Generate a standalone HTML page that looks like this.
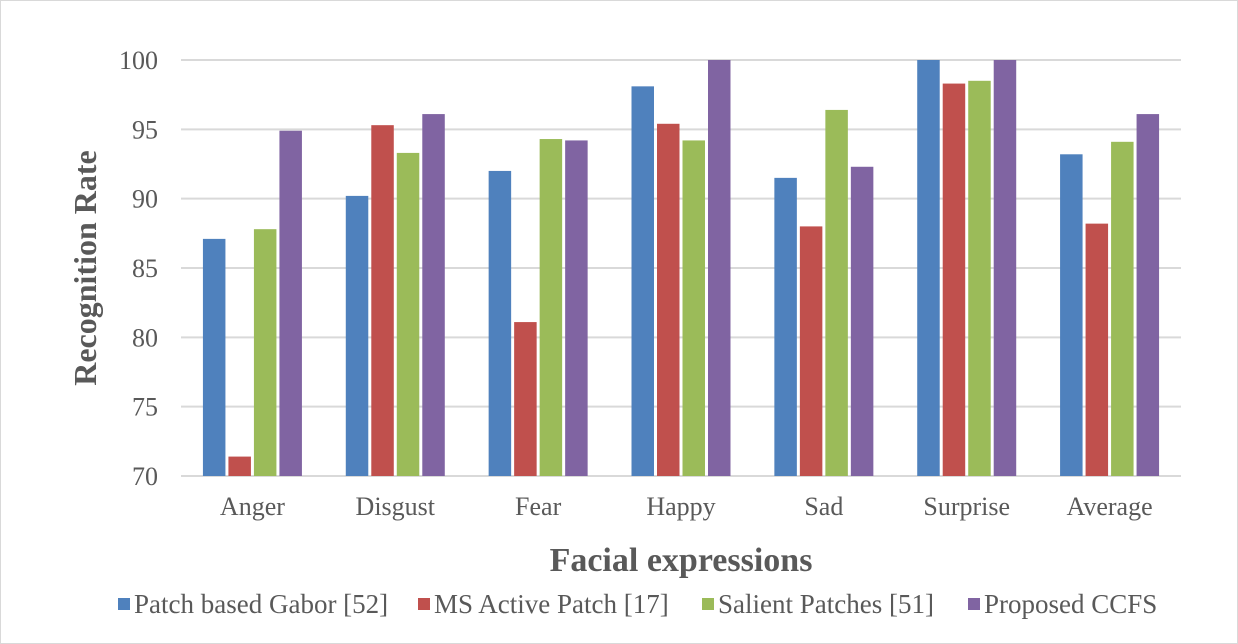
<!DOCTYPE html>
<html><head><meta charset="utf-8"><style>
html,body{margin:0;padding:0;background:#fff;}
svg{display:block;}
svg text{font-family:"Liberation Serif","DejaVu Serif",serif;}
</style></head><body>
<svg id="chart" width="1238" height="644" viewBox="0 0 1238 644">
<rect x="0.5" y="0.5" width="1237" height="643" fill="#fff" stroke="#d9d9d9"/>
<g id="grid"></g><g id="bars"></g><g id="xlabels"></g><g id="ylabels"></g>
<text x="96" y="268" transform="rotate(-90 96 268)" text-anchor="middle" font-size="32" font-weight="bold" fill="#595959">Recognition Rate</text>
<text x="681" y="571" text-anchor="middle" font-size="34" font-weight="bold" fill="#595959">Facial expressions</text>
<g id="legend"></g>
</svg>
<script>
const categories=["Anger","Disgust","Fear","Happy","Sad","Surprise","Average"];
const seriesNames=["Patch based Gabor [52]","MS Active Patch [17]","Salient Patches [51]","Proposed CCFS"];
const gabor=[87.1,90.2,92.0,98.1,91.5,100,93.2];
const msActive=[71.4,95.3,81.1,95.4,88.0,98.3,88.2];
const salient=[87.8,93.3,94.3,94.2,96.4,98.5,94.1];
const ccfs=[94.9,96.1,94.2,100,92.3,100,96.1];
const yTicks=[70,75,80,85,90,95,100];
const series=[gabor,msActive,salient,ccfs];
const colors=["#4F81BD","#C0504D","#9BBB59","#8064A2"];
const NS="http://www.w3.org/2000/svg";
const x0=181,x1=1181,yTop=60,yBot=476,ymin=70,ymax=100;
const slot=(x1-x0)/categories.length;
const y=v=>yBot-(v-ymin)/(ymax-ymin)*(yBot-yTop);
function mk(tag,attrs,parent){const e=document.createElementNS(NS,tag);for(const k in attrs)e.setAttribute(k,attrs[k]);parent.appendChild(e);return e;}
const grid=document.getElementById('grid'),yl=document.getElementById('ylabels');
yTicks.forEach(t=>{
  const l=mk('line',{x1:x0,x2:x1,y1:y(t),y2:y(t),stroke:'#d9d9d9','stroke-width':2},grid);
  
  
  const tx=mk('text',{x:158,y:y(t)+9,'text-anchor':'end','font-size':26,fill:'#595959'},yl);
  tx.textContent=t;
  
  
});
const bars=document.getElementById('bars'),xl=document.getElementById('xlabels');
const bw=22.5,step=25.5;
categories.forEach((c,i)=>{
  const cx=x0+slot*(i+0.5);
  series.forEach((s,j)=>{
    const bx=cx-2*step+j*step+(step-bw)/2;
    const r=mk('rect',{x:bx,y:y(s[i]),width:bw,height:yBot-y(s[i]),fill:colors[j]},bars);
    
    
  });
  const t=mk('text',{x:cx,y:515,'text-anchor':'middle','font-size':26,fill:'#595959'},xl);
  t.textContent=c;
  
  
});
const lg=document.getElementById('legend');
const lx=[118,418,702,968];
seriesNames.forEach((n,j)=>{
  const sq=mk('rect',{x:lx[j],y:598,width:12,height:12,fill:colors[j]},lg);
  
  
  const t=mk('text',{x:lx[j]+16,y:613,'font-size':27,fill:'#595959','font-family':'Liberation Serif, serif'},lg);
  t.textContent=n;
  
  
});
</script>
</body></html>
